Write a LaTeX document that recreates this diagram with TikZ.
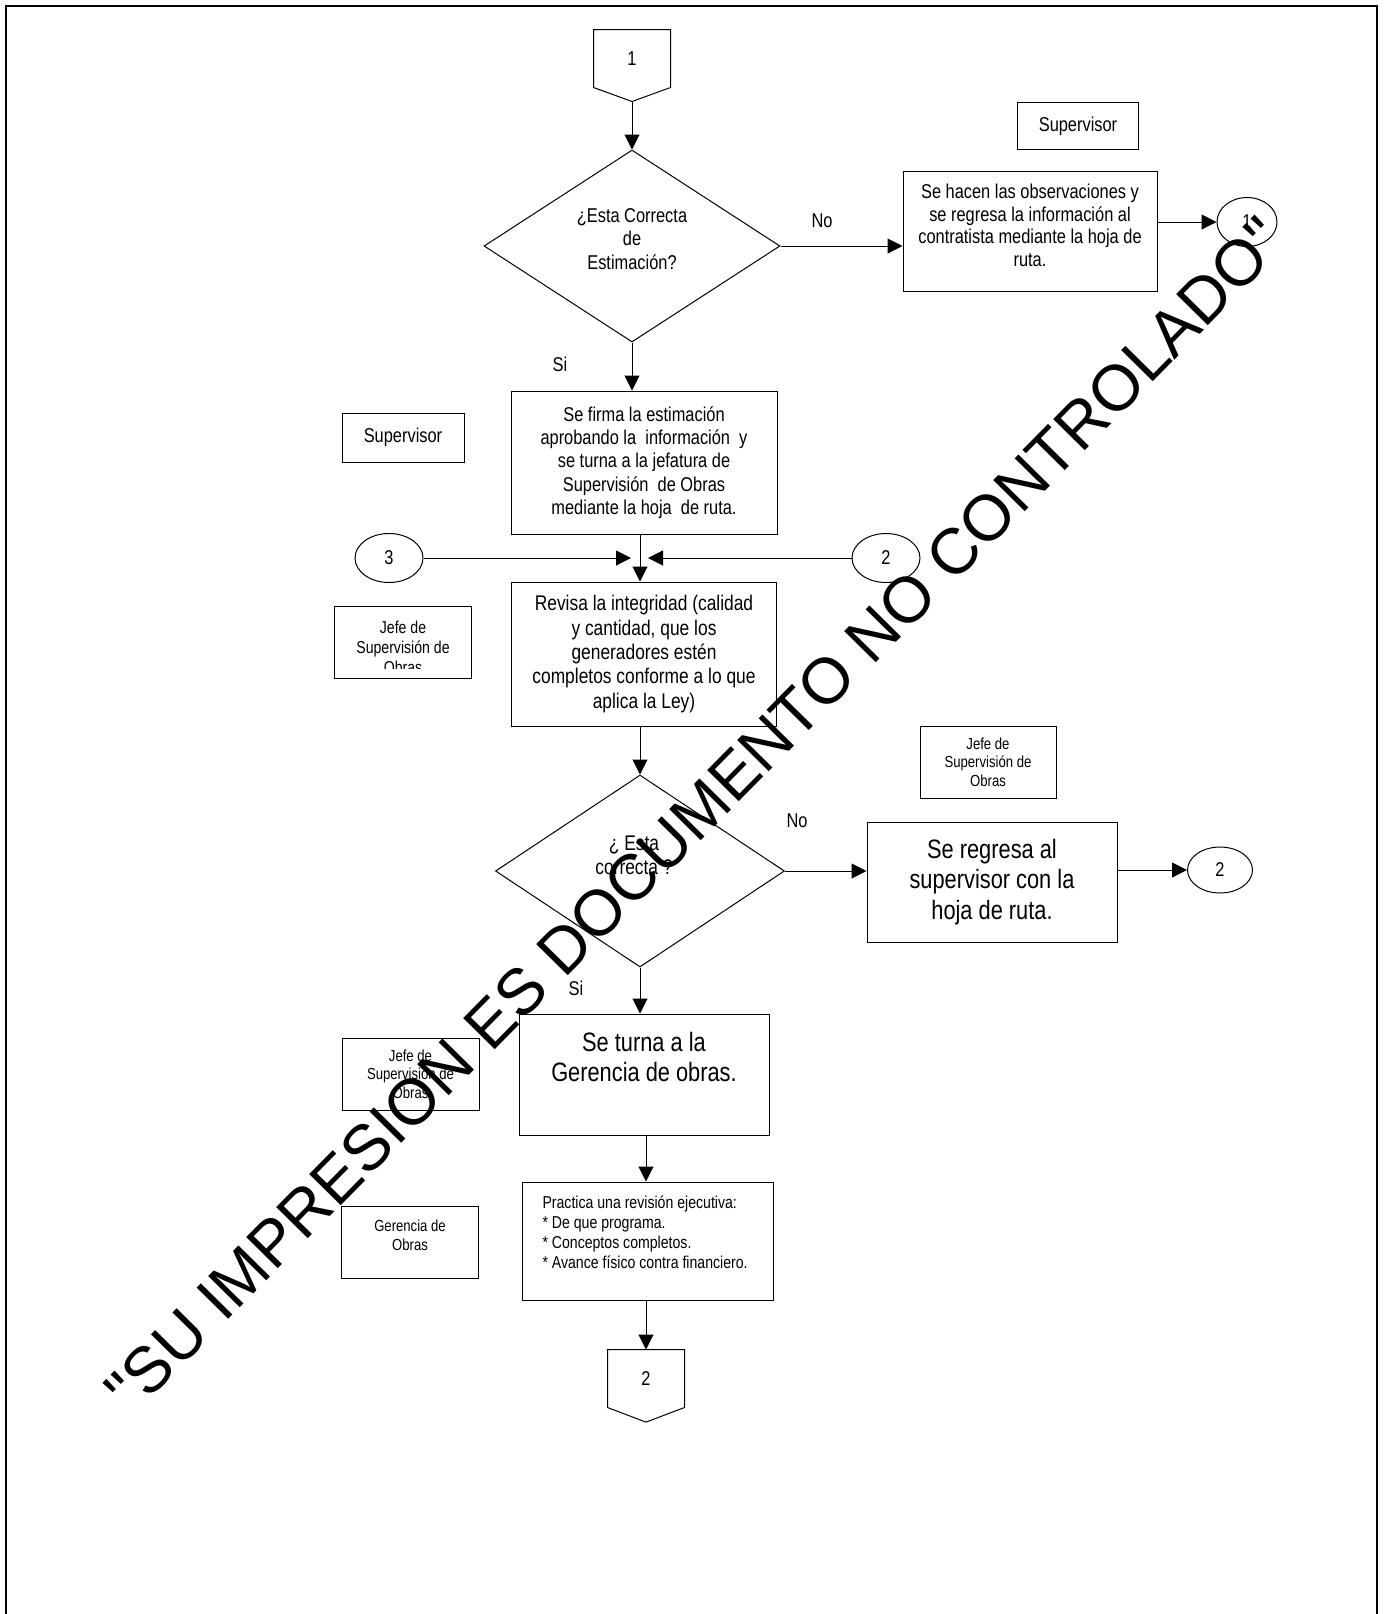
\documentclass[tikz,border=0pt]{standalone}
\usepackage{fontspec}
\setmainfont{Liberation Sans}[FakeStretch=0.82]
\newfontfamily\wmfont{Liberation Sans}
\usetikzlibrary{arrows.meta,shapes.geometric,positioning}

\tikzset{
  box/.style={draw, inner sep=0pt, align=center},
  oval/.style={draw, ellipse, inner sep=0pt},
  txt/.style={inner sep=0pt, align=center},
  fnormal/.style={font=\fontsize{10}{11.6}\selectfont},
  fobs/.style={font=\fontsize{10}{11.3}\selectfont},
  fmid/.style={font=\fontsize{10.6}{12.2}\selectfont},
  flarge/.style={font=\fontsize{13.3}{15.2}\selectfont},
  fsmall/.style={font=\fontsize{8.6}{10}\selectfont},
  ftiny/.style={font=\fontsize{8}{9.2}\selectfont}
}

\begin{document}
\begin{tikzpicture}[x=0.5pt, y=-0.5pt, line width=0.5pt, >={Triangle[length=7.5pt,width=7.5pt]}]
\useasboundingbox (0,0) rectangle (1385,1614);
\draw[line width=1pt] (6,1614) -- (6,6) -- (1377,6) -- (1377,1614);

% connector 1 and first decision
\node[txt, fnormal, minimum width=38pt, minimum height=28.5pt] (c1) at (632,58.5) {1};
\coordinate (c1tip) at ([yshift=-7pt]c1.south);
\draw (c1.north west) -- (c1.north east) -- (c1.south east) -- (c1tip) -- (c1.south west) -- cycle;
\node[box, diamond, minimum width=148pt, minimum height=96pt] (d1) at (632,246) {};
\node[txt, fnormal] (d1txt) at ([yshift=3.5pt]d1.center) {¿Esta Correcta\\de\\Estimación?};
\draw[->] (c1tip) -- (d1.north);

\node[box, fnormal, minimum width=60.5pt, minimum height=23.5pt] (sup1) at (1078,126) {Supervisor};
\node[box, minimum width=127pt, minimum height=60pt] (obs) at (1030,231) {};
\node[txt, fobs, below=6.5pt of obs.north] (obstxt) {Se hacen las observaciones y\\se regresa la información al\\contratista mediante la hoja de\\ruta.};
\node[oval, fnormal, minimum width=30pt, minimum height=24.5pt] (r1) at (1247,222) {1};
\node[txt, fnormal] (no1) at (822,221) {No};
\draw[->] (d1.east) -- (d1.east -| obs.west);
\draw[->] (obs.east |- r1.west) -- (r1.west);

% signing
\node[txt, fnormal] (si1) at (560,364) {Si};
\node[box, fnormal, minimum width=133pt, minimum height=71.5pt] (firma) at (644,462.5) {Se firma la estimación\\aprobando la~ información~ y\\se turna a la jefatura de\\Supervisión~ de Obras\\mediante la hoja~ de ruta.};
\draw[->] (d1.south) -- (d1.south |- firma.north);
\node[box, fnormal, minimum width=61pt, minimum height=24.5pt] (sup2) at (403,437.5) {Supervisor};

% review
\node[oval, fnormal, minimum width=34pt, minimum height=24.5pt] (o3) at (389,558) {3};
\node[oval, fnormal, minimum width=34pt, minimum height=24.5pt] (o2) at (886,558) {2};
\node[box, fmid, minimum width=132.5pt, minimum height=72pt] (rev) at (644,654) {Revisa la integridad (calidad\\y cantidad, que los\\generadores estén\\completos conforme a lo que\\aplica la Ley)};
\coordinate (join) at (640,558);
\draw[->] (firma.south -| join) -- (rev.north -| join);
\draw[->] (o3.east) -- ([xshift=-4.5pt]join);
\draw[->] (o2.west) -- ([xshift=4pt]join);

\node[box, minimum width=68.5pt, minimum height=36pt] (jefeA) at (403,642) {};
\begin{scope}
\clip (jefeA.north west) rectangle ([yshift=5pt]jefeA.south east);
\node[txt, fsmall] (jefeAtxt) at (403,647) {Jefe de\\Supervisión de\\Obras};
\end{scope}

% second decision
\node[box, diamond, minimum width=144.5pt, minimum height=96pt] (d2) at (640,871) {};
\node[txt, fmid] (d2txt) at (634,855) {¿ Esta\\correcta ?};
\draw[->] (rev.south -| d2.north) -- (d2.north);
\node[txt, fnormal] (no2) at (797,821) {No};
\node[box, flarge, minimum width=125pt, minimum height=60pt] (reg) at (992,882) {Se regresa al\\supervisor con la\\hoja de ruta.};
\node[oval, fnormal, minimum width=32.5pt, minimum height=23pt] (r2) at (1220,870) {2};
\draw[->] (d2.east) -- (d2.east -| reg.west);
\draw[->] (reg.east |- r2.west) -- (r2.west);
\node[box, ftiny, minimum width=68pt, minimum height=36pt] (jefeB) at (988,762) {Jefe de\\Supervisión de\\Obras};

% to management
\node[txt, fnormal] (si2) at (576,988) {Si};
\node[box, minimum width=125pt, minimum height=60.5pt] (turna) at (644,1074.5) {};
\node[txt, flarge, below=9pt of turna.north] (turnatxt) {Se turna a la\\Gerencia de obras.};
\draw[->] (d2.south) -- (d2.south |- turna.north);
\node[box, ftiny, minimum width=68.5pt, minimum height=36pt] (jefeC) at (410.5,1074) {Jefe de\\Supervisión de\\Obras};

\node[box, minimum width=125.5pt, minimum height=59pt] (prac) at (648,1241) {};
\node[txt, fsmall, align=left, below right=6.8pt and 10pt of prac.north west] (practxt) {Practica una revisión ejecutiva:\\* De que programa.\\* Conceptos completos.\\* Avance físico contra financiero.};
\node[box, minimum width=68.5pt, minimum height=36pt] (ger) at (410,1242) {};
\node[txt, ftiny, below=7pt of ger.north] (gertxt) {Gerencia de\\Obras};

% connector 2
\node[txt, fnormal, minimum width=38pt, minimum height=28.5pt] (c2) at (646,1378.5) {2};
\coordinate (c2tip) at ([yshift=-7.3pt]c2.south);
\draw (c2.north west) -- (c2.north east) -- (c2.south east) -- (c2tip) -- (c2.south west) -- cycle;
\draw[->] (turna.south -| c2.north) -- (prac.north -| c2.north);
\draw[->] (prac.south -| c2.north) -- (c2.north);

% watermark
\node[inner sep=0pt, rotate=45.4, font=\wmfont\fontsize{32.25}{36}\selectfont] (wm) at (695,815) {"SU IMPRESION ES DOCUMENTO NO CONTROLADO"};
\end{tikzpicture}
\end{document}
